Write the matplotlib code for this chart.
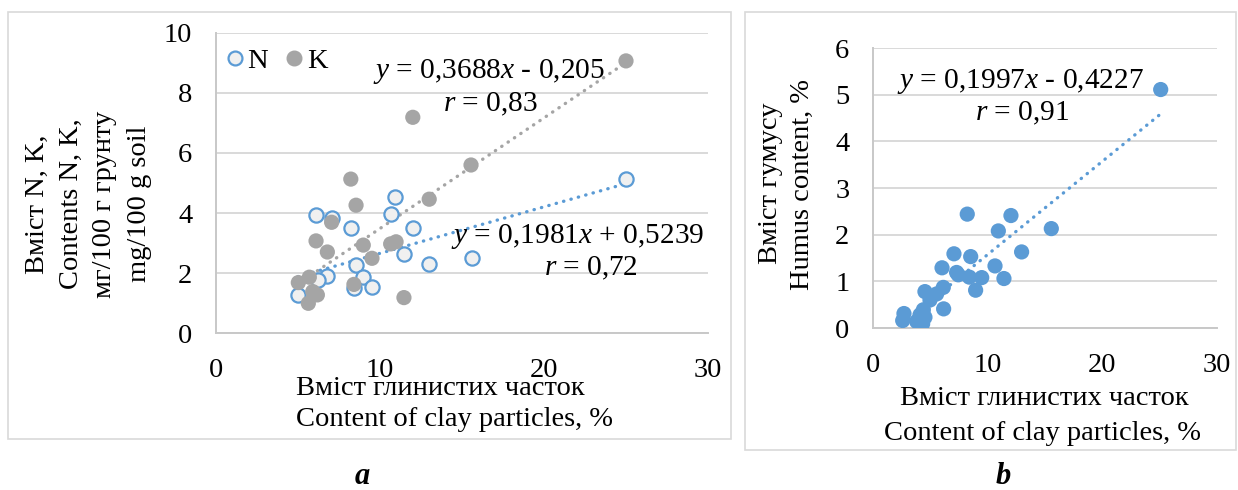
import numpy as np
import matplotlib
matplotlib.use("Agg")
import matplotlib.pyplot as plt
from matplotlib.lines import Line2D
from matplotlib.patches import Rectangle

plt.rcParams['font.family'] = ['Liberation Serif', 'DejaVu Serif']
plt.rcParams['mathtext.fontset'] = 'custom'
plt.rcParams['mathtext.rm'] = 'Liberation Serif'
plt.rcParams['mathtext.it'] = 'Liberation Serif:italic'

# ---------------- data: panel a ----------------
n_clay = [25.0, 10.93, 6.10, 10.65, 7.05, 8.23, 12.01, 11.44, 12.99, 15.6,
          8.54, 8.98, 6.77, 9.51, 8.40, 5.00, 6.24]
n_vals = [5.12, 4.52, 3.94, 3.96, 3.82, 3.49, 3.51, 2.64, 2.29, 2.49,
          2.27, 1.88, 1.89, 1.52, 1.51, 1.26, 1.77]

k_clay = [25.0, 12.0, 15.55, 8.22, 13.0, 8.54, 7.05, 6.10, 8.98, 6.79,
          10.65, 10.98, 9.51, 5.02, 5.69, 5.90, 6.18, 8.41, 11.46, 5.63]
k_vals = [9.07, 7.19, 5.60, 5.13, 4.46, 4.26, 3.69, 3.07, 2.93, 2.70,
          2.97, 3.04, 2.49, 1.68, 1.86, 1.38, 1.27, 1.62, 1.18, 0.99]

# trend lines as drawn (slope, intercept)
n_trend = [0.155, 1.105]
k_trend = [0.3688, -0.205]

# ---------------- data: panel b ----------------
h_clay = [25.09, 8.22, 12.03, 10.93, 15.55, 12.96, 7.06, 8.52, 10.64, 6.02,
          7.29, 7.44, 8.40, 9.48, 11.42, 8.95, 6.13, 5.55, 4.53, 4.97,
          6.16, 4.39, 2.70, 2.59, 4.10, 4.53, 3.81, 4.33]
h_vals = [5.11, 2.44, 2.41, 2.08, 2.13, 1.63, 1.59, 1.53, 1.33, 1.29,
          1.19, 1.14, 1.09, 1.08, 1.06, 0.81, 0.87, 0.73, 0.78, 0.60,
          0.41, 0.39, 0.31, 0.16, 0.28, 0.23, 0.14, 0.09]
h_trend = [0.1997, -0.4227]

x_ticks = [0, 10, 20, 30]
ya_ticks = [0, 2, 4, 6, 8, 10]
yb_ticks = [0, 1, 2, 3, 4, 5, 6]

eq_k = '$y$ = 0,3688$x$ - 0,205'
r_k = '$r$ = 0,83'
eq_n = '$y$ = 0,1981$x$ + 0,5239'
r_n = '$r$ = 0,72'
eq_h = '$y$ = 0,1997$x$ - 0,4227'
r_h = '$r$ = 0,91'

BLUE = '#5B9BD5'
GREY = '#A5A5A5'
GRID = '#D9D9D9'
FS = 20.5
FE = 21.2

W, H = 1238, 490
fig = plt.figure(figsize=(W / 100, H / 100), dpi=100)


def fx(x):
    return x / W


def fy(y):
    return 1 - y / H


# outer boxes
fig.patches.append(Rectangle((fx(8), fy(439)), fx(731) - fx(8), fy(12) - fy(439),
                             transform=fig.transFigure, fill=False, edgecolor=GRID, lw=1.2))
fig.patches.append(Rectangle((fx(745), fy(450)), fx(1236) - fx(745), fy(12) - fy(450),
                             transform=fig.transFigure, fill=False, edgecolor=GRID, lw=1.2))


def style(ax, ymax, yticks):
    ax.set_xlim(0, 30)
    ax.set_ylim(0, ymax)
    ax.set_xticks(x_ticks)
    ax.set_yticks(yticks)
    ax.tick_params(length=0, labelsize=FS)
    ax.tick_params(axis='y', pad=17)
    ax.tick_params(axis='x', pad=18)
    ax.grid(axis='y', color=GRID, lw=1.4)
    ax.set_axisbelow(True)
    for s in ['top', 'right']:
        ax.spines[s].set_visible(False)
    for s in ['left', 'bottom']:
        ax.spines[s].set_color('#C8C8C8')
        ax.spines[s].set_linewidth(1.4)


def trend(ax, xs, coef, color):
    xx = np.array([min(xs), max(xs)])
    ax.plot(xx, coef[0] * xx + coef[1], color=color, lw=2.4,
            linestyle=(0, (0.1, 2.2)), dash_capstyle='round', zorder=3)


# ---------- panel a ----------
axa = fig.add_axes([fx(216), fy(333), fx(708) - fx(216), fy(33) - fy(333)])
style(axa, 10, ya_ticks)
axa.scatter(n_clay, n_vals, s=105, facecolor='#F0F0F0', edgecolors=BLUE,
            linewidths=1.6, zorder=4)
axa.scatter(k_clay, k_vals, s=120, color=GREY, edgecolors='none', zorder=5)
trend(axa, k_clay, k_trend, GREY)
trend(axa, n_clay, n_trend, BLUE)

handles = [Line2D([], [], ls='none', marker='o', ms=10, mfc='#F0F0F0', mec=BLUE, mew=1.6),
           Line2D([], [], ls='none', marker='o', ms=10.5, mfc=GREY, mec=GREY)]
axa.legend(handles, ['N', 'K'], loc='upper left', bbox_to_anchor=(0.018, 0.95),
           ncol=2, frameon=False, fontsize=FS, handletextpad=0.1,
           columnspacing=0.55, handlelength=0.7, borderaxespad=0, borderpad=0)

fig.text(fx(489), fy(72), eq_k, ha='center', va='center', fontsize=FE)
fig.text(fx(490), fy(104), r_k, ha='center', va='center', fontsize=FE)
fig.text(fx(578), fy(236), eq_n, ha='center', va='center', fontsize=FE)
fig.text(fx(591), fy(268), r_n, ha='center', va='center', fontsize=FE)

for xc, line in zip([37, 71, 105, 139],
                    ['Вміст N, K,', 'Contents N, K,', 'мг/100 г грунту', 'mg/100 g soil']):
    fig.text(fx(xc), fy(204), line, rotation=90, ha='center', va='center', fontsize=FS)

fig.text(fx(440), fy(395), 'Вміст глинистих часток', ha='center', va='baseline', fontsize=FS)
fig.text(fx(454), fy(426), 'Content of clay particles, %', ha='center', va='baseline', fontsize=FS)
fig.text(fx(362), fy(484), 'a', ha='center', va='baseline', fontsize=22,
         fontweight='bold', fontstyle='italic')

# ---------- panel b ----------
axb = fig.add_axes([fx(873), fy(328), fx(1217) - fx(873), fy(48) - fy(328)])
style(axb, 6, yb_ticks)
axb.scatter(h_clay, h_vals, s=120, color=BLUE, edgecolors='none', zorder=4)
trend(axb, h_clay, h_trend, BLUE)

fig.text(fx(1020), fy(82), eq_h, ha='center', va='center', fontsize=FE)
fig.text(fx(1022), fy(113), r_h, ha='center', va='center', fontsize=FE)

fig.text(fx(770), fy(183), 'Вміст гумусу', rotation=90, ha='center', va='center', fontsize=FS)
fig.text(fx(802), fy(185), 'Humus content, %', rotation=90, ha='center', va='center', fontsize=FS)
fig.text(fx(1044), fy(405), 'Вміст глинистих часток', ha='center', va='baseline', fontsize=FS)
fig.text(fx(1043), fy(440), 'Content of clay particles, %', ha='center', va='baseline', fontsize=FS)
fig.text(fx(1003), fy(484), 'b', ha='center', va='baseline', fontsize=22,
         fontweight='bold', fontstyle='italic')

fig.savefig('out.png', dpi=100)
